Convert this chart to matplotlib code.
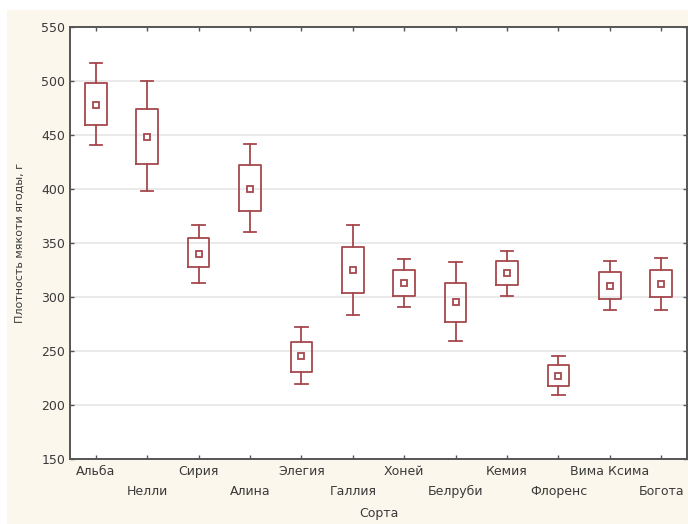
import matplotlib
matplotlib.use('Agg')
import matplotlib.pyplot as plt
from matplotlib.patches import Rectangle

# сорта и статистики (плотность мякоти ягоды, г)
sorta = ['Альба', 'Нелли', 'Сирия', 'Алина', 'Элегия', 'Галлия', 'Хоней',
         'Белруби', 'Кемия', 'Флоренс', 'Вима Ксима', 'Богота']
mean = [478, 448, 340, 400, 245, 325, 313, 295, 322, 227, 310, 312]
box_lo = [459, 423, 328, 380, 231, 304, 301, 277, 311, 218, 298, 300]
box_hi = [498, 474, 355, 422, 258, 346, 325, 313, 333, 237, 323, 325]
wh_lo = [441, 398, 313, 360, 219, 283, 291, 259, 301, 209, 288, 288]
wh_hi = [517, 500, 367, 442, 272, 367, 335, 332, 343, 245, 333, 336]

col = '#a5484c'
txt = '#3a3a3a'
plt.rcParams['font.family'] = ['DejaVu Sans']

fig = plt.figure(figsize=(6.88, 5.24), dpi=100, facecolor='white')
fig.patches.append(Rectangle((7/688, 0), 1, (524-10)/524, transform=fig.transFigure,
                             facecolor='#fcf7ec', edgecolor='none', zorder=-10))
ax = fig.add_axes([70/688, 65/524, 617/688, 432/524])
ax.set_facecolor('white')

stats = []
for i in range(len(sorta)):
    stats.append({'med': mean[i], 'q1': box_lo[i], 'q3': box_hi[i],
                  'whislo': wh_lo[i], 'whishi': wh_hi[i], 'mean': mean[i],
                  'fliers': [], 'label': sorta[i]})
ax.bxp(stats, positions=range(len(sorta)), widths=0.42, capwidths=0.24,
       showmeans=True, patch_artist=False,
       boxprops=dict(color=col, linewidth=1.3),
       whiskerprops=dict(color=col, linewidth=1.3),
       capprops=dict(color=col, linewidth=1.3),
       medianprops=dict(linewidth=0),
       meanprops=dict(marker='s', markersize=4.5, markerfacecolor='white',
                      markeredgecolor=col, markeredgewidth=1.3))

ax.set_xlim(-0.5, 11.5)
ax.set_ylim(150, 550)
ax.set_yticks(range(150, 551, 50))
ax.set_xticks(range(len(sorta)))
ax.set_xticklabels(sorta)
for i, t in enumerate(ax.get_xticklabels()):
    if i % 2 == 1:
        t.set_y(-0.048)
ax.grid(axis='y', color='#e6e6e6', linewidth=1.2)
ax.set_axisbelow(True)
ax.tick_params(direction='in', length=3, width=1, color='#555555',
               labelcolor=txt, labelsize=9, top=True, right=True)
ax.tick_params(axis='x', pad=4)
for s in ax.spines.values():
    s.set_color('#555555')
    s.set_linewidth(1.4)

ax.set_xlabel('Сорта', color=txt, fontsize=9, va='center')
ax.xaxis.set_label_coords(0.5, -0.127)
ax.set_ylabel('Плотность мякоти ягоды, г', color=txt, fontsize=8, va='center')
ax.yaxis.set_label_coords(-0.081, 0.5)

plt.savefig('out.png', dpi=100, facecolor=fig.get_facecolor())
